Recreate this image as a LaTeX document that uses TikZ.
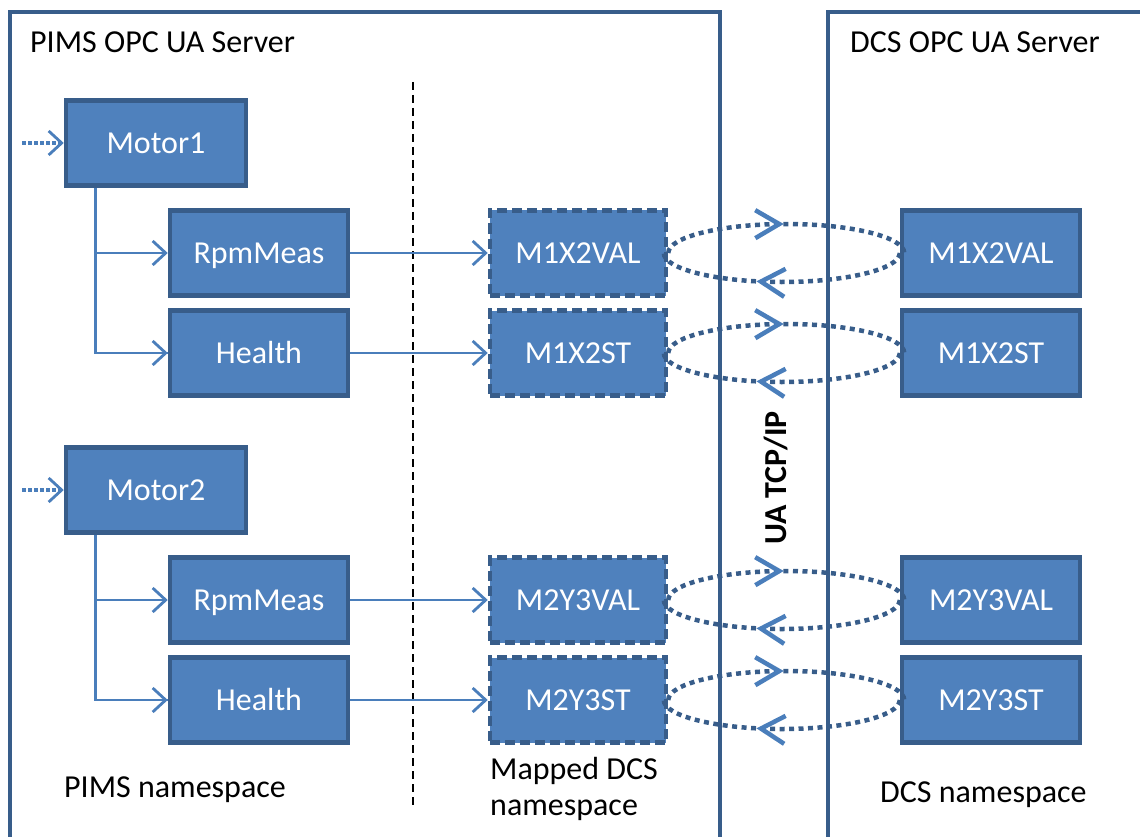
\documentclass[tikz,border=0pt]{standalone}
\usepackage{fontspec}
\setmainfont{Carlito}
\usepackage{tikz}
\usetikzlibrary{arrows.meta,decorations.markings}
\definecolor{boxfill}{RGB}{79,129,189}
\definecolor{boxline}{RGB}{56,93,138}
\definecolor{linkblue}{RGB}{74,126,187}
\newcommand*\blockwd{178pt}
\newcommand*\blockht{85pt}
\newcommand*\bigfont{\fontsize{32pt}{36pt}\selectfont}
\tikzset{
    block/.style      = {draw=boxline, fill=boxfill, line width=4.5pt,
                        minimum width=\blockwd, minimum height=\blockht,
                        inner sep=0pt, text=white, font=\bigfont,
                        text height=22pt, text depth=1.5pt},
    mappedblock/.style= {block, dash pattern=on 10pt off 5pt},
    label/.style      = {inner sep=0pt, font=\bigfont, align=left},
    serverframe/.style= {draw=boxline, line width=4pt},
    treeline/.style   = {draw=linkblue, line width=2.8pt},
    treearrow/.style  = {treeline, -{Straight Barb[length=13pt,width=24pt]}},
    feedarrow/.style  = {treeline, line width=3.2pt, dash pattern=on 3.5pt off 2.5pt,
                        -{Straight Barb[length=13pt,width=24pt,line width=2.8pt]}},
    linkdots/.style   = {draw=boxline, line width=4.5pt, dash pattern=on 5pt off 4.5pt},
    linktip/.style    = {postaction={decorate}, decoration={markings,
                        mark=at position #1 with {\arrow[color=linkblue,solid]
                        {Straight Barb[length=24pt,width=28pt,line width=4.5pt]}}}},
  }

\begin{document}
\begin{tikzpicture}[x=1pt,y=-1pt]
    \useasboundingbox (0,0) rectangle (1140,837);

    % server frames, open at the bottom
    \draw[serverframe] (10,845) |- (720,12) -- (720,845);
    \draw[serverframe] (828,845) |- (1150,12);
    \node[label, anchor=west] (pimstitle) at (30,42) {PIMS OPC UA Server};
    \node[label, anchor=west] (dcstitle) at (850,42) {DCS OPC UA Server};

    % split between own and mapped namespace
    \draw[black, line width=2pt, dash pattern=on 8pt off 5pt] (413,82) -- (413,805);

    % motors with their incoming references
    \node[block, minimum width=180pt] (Motor1) at (156,143) {Motor1};
    \node[block, minimum width=180pt] (Motor2) at (156,490) {Motor2};
    \coordinate (feed1) at (22,143);
    \coordinate (feed2) at (22,490);
    \draw[feedarrow] (feed1) -- (Motor1.west);
    \draw[feedarrow] (feed2) -- (Motor2.west);

    % variables, mapped nodes, DCS nodes and the UA links between them
    \foreach \y/\pname/\mname/\tag in {253/RpmMeas/M1X2VAL/a, 353/Health/M1X2ST/b,
                                       600/RpmMeas/M2Y3VAL/c, 700/Health/M2Y3ST/d} {
        \node[block] (P-\tag) at (259,\y) {\pname};
        \node[mappedblock, minimum width=176pt] (M-\tag) at (578,\y) {\mname};
        \node[block] (D-\tag) at (991,\y) {\mname};
        \draw[treearrow] (P-\tag.east) -- (M-\tag.west);
        \draw[linkdots, linktip=0.49] (M-\tag.east) arc[start angle=180, end angle=360, x radius=118, y radius=29];
        \draw[linkdots, linktip=0.6] (D-\tag.west) arc[start angle=0, end angle=180, x radius=118, y radius=29];
    }

    % hierarchy below each motor
    \draw[treeline] ([xshift=32pt]Motor1.south west) |- (P-b.west);
    \draw[treearrow] ([xshift=32pt]Motor1.south west |- P-a.west) -- (P-a.west);
    \draw[treearrow] ([xshift=32pt]Motor1.south west |- P-b.west) -- (P-b.west);
    \draw[treeline] ([xshift=32pt]Motor2.south west) |- (P-d.west);
    \draw[treearrow] ([xshift=32pt]Motor2.south west |- P-c.west) -- (P-c.west);
    \draw[treearrow] ([xshift=32pt]Motor2.south west |- P-d.west) -- (P-d.west);

    \node[label, rotate=90, font=\bigfont\bfseries] (uatcp) at (776,478) {UA TCP/IP};

    % namespace captions
    \node[label, anchor=west] (pimsns) at (64,790) {PIMS namespace};
    \node[label, anchor=north west] (mappedns) at (490,757) {Mapped DCS\\namespace};
    \node[label, anchor=west] (dcsns) at (880,795) {DCS namespace};
\end{tikzpicture}
\end{document}
